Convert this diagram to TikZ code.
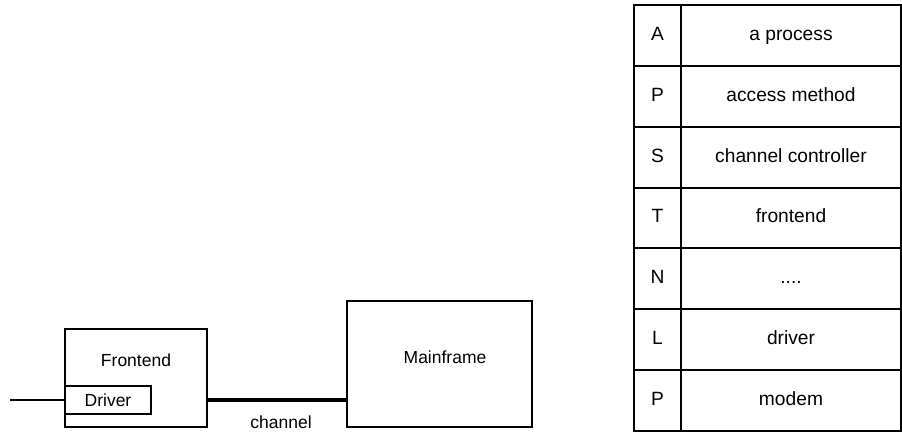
\documentclass[tikz,border=0pt]{standalone}
\usepackage{fontspec}
\setmainfont{Liberation Sans}
\usetikzlibrary{positioning}

\begin{document}
\begin{tikzpicture}[
    x=1pt, y=1pt,
    font=\fontsize{17.5}{20}\selectfont,
    box/.style={
        draw,
        line width=1.5pt,
        inner sep=0pt,
        outer sep=0pt
    },
    cell/.style={
        draw,
        line width=2pt,
        inner sep=0pt,
        outer sep=0pt,
        minimum height=60.86pt,
        text height=13.8pt,
        text depth=4pt,
        font=\fontsize{19.2}{22}\selectfont
    },
    letter/.style={cell, minimum width=47pt},
    layer/.style={cell, minimum width=220pt},
    channel/.style={line width=3.5pt}
]

\useasboundingbox (0,0) rectangle (902,433);

% left side: frontend and mainframe
\node[box, minimum width=142pt, minimum height=98pt] (frontend) at (136,55) {};
\node[below=21pt of frontend.north] (fetext) {Frontend};

\node[box, minimum width=86pt, minimum height=28pt] (driver) at (108,33) {Driver};
\coordinate (line) at (10,33);

\node[box, minimum width=185pt, minimum height=126pt] (mainframe) at (439.5,69) {};
\node (mftext) at (445,76) {Mainframe};

\draw[line width=1.5pt] (line) -- (driver.west);
\draw[channel] (frontend.east |- driver.center) -- (mainframe.west |- driver.center);
\node (chlabel) at (281,11) {channel};

% right side: layer table
\node[letter] (l1) at (657.5,397.57) {A};
\node[layer, right=0pt of l1] (d1) {a process};
\node[letter, below=0pt of l1] (l2) {P};
\node[layer, right=0pt of l2] (d2) {access method};
\node[letter, below=0pt of l2] (l3) {S};
\node[layer, right=0pt of l3] (d3) {channel controller};
\node[letter, below=0pt of l3] (l4) {T};
\node[layer, right=0pt of l4] (d4) {frontend};
\node[letter, below=0pt of l4] (l5) {N};
\node[layer, right=0pt of l5] (d5) {....};
\node[letter, below=0pt of l5] (l6) {L};
\node[layer, right=0pt of l6] (d6) {driver};
\node[letter, below=0pt of l6] (l7) {P};
\node[layer, right=0pt of l7] (d7) {modem};

\end{tikzpicture}
\end{document}
